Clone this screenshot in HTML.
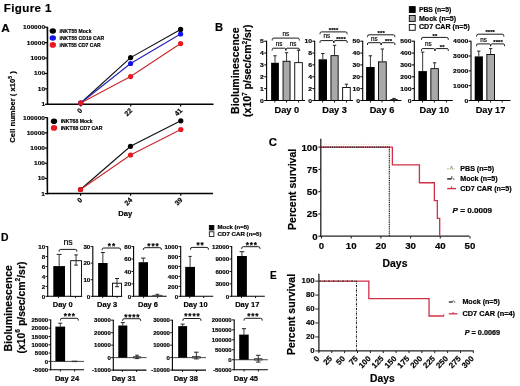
<!DOCTYPE html>
<html><head><meta charset="utf-8"><title>Figure 1</title>
<style>
html,body{margin:0;padding:0;background:#fff;}
body{width:520px;height:386px;overflow:hidden;}
svg{display:block;will-change:transform;font-family:"Liberation Sans",sans-serif;font-weight:bold;}
text{stroke:#000;stroke-width:0.18px;}
</style></head>
<body>
<svg width="520" height="386" viewBox="0 0 520 386">
<rect width="520" height="386" fill="#fff"/>
<text x="3.8" y="12.1" font-size="11.6" letter-spacing="0.35">Figure 1</text>
<text x="1.3" y="31.6" font-size="11.8">A</text>
<line x1="47.5" y1="26.9" x2="47.5" y2="105" stroke="#000" stroke-width="1.5"/>
<line x1="46.8" y1="104.3" x2="213.5" y2="104.3" stroke="#000" stroke-width="1.5"/>
<line x1="44.9" y1="27.2" x2="47.5" y2="27.2" stroke="#000" stroke-width="1.2"/>
<text x="0" y="0" transform="translate(45.1 29.2) scale(1 0.9)" font-size="6.6" text-anchor="end">100000</text>
<line x1="46.2" y1="37.98" x2="47.5" y2="37.98" stroke="#444" stroke-width="0.5"/>
<line x1="46.2" y1="35.26" x2="47.5" y2="35.26" stroke="#444" stroke-width="0.5"/>
<line x1="46.2" y1="33.34" x2="47.5" y2="33.34" stroke="#444" stroke-width="0.5"/>
<line x1="46.2" y1="31.84" x2="47.5" y2="31.84" stroke="#444" stroke-width="0.5"/>
<line x1="46.2" y1="30.62" x2="47.5" y2="30.62" stroke="#444" stroke-width="0.5"/>
<line x1="46.2" y1="29.59" x2="47.5" y2="29.59" stroke="#444" stroke-width="0.5"/>
<line x1="46.2" y1="28.69" x2="47.5" y2="28.69" stroke="#444" stroke-width="0.5"/>
<line x1="46.2" y1="27.91" x2="47.5" y2="27.91" stroke="#444" stroke-width="0.5"/>
<line x1="44.9" y1="42.62" x2="47.5" y2="42.62" stroke="#000" stroke-width="1.2"/>
<text x="0" y="0" transform="translate(45.1 44.62) scale(1 0.9)" font-size="6.6" text-anchor="end">10000</text>
<line x1="46.2" y1="53.4" x2="47.5" y2="53.4" stroke="#444" stroke-width="0.5"/>
<line x1="46.2" y1="50.68" x2="47.5" y2="50.68" stroke="#444" stroke-width="0.5"/>
<line x1="46.2" y1="48.76" x2="47.5" y2="48.76" stroke="#444" stroke-width="0.5"/>
<line x1="46.2" y1="47.26" x2="47.5" y2="47.26" stroke="#444" stroke-width="0.5"/>
<line x1="46.2" y1="46.04" x2="47.5" y2="46.04" stroke="#444" stroke-width="0.5"/>
<line x1="46.2" y1="45.01" x2="47.5" y2="45.01" stroke="#444" stroke-width="0.5"/>
<line x1="46.2" y1="44.11" x2="47.5" y2="44.11" stroke="#444" stroke-width="0.5"/>
<line x1="46.2" y1="43.33" x2="47.5" y2="43.33" stroke="#444" stroke-width="0.5"/>
<line x1="44.9" y1="58.04" x2="47.5" y2="58.04" stroke="#000" stroke-width="1.2"/>
<text x="0" y="0" transform="translate(45.1 60.04) scale(1 0.9)" font-size="6.6" text-anchor="end">1000</text>
<line x1="46.2" y1="68.82" x2="47.5" y2="68.82" stroke="#444" stroke-width="0.5"/>
<line x1="46.2" y1="66.1" x2="47.5" y2="66.1" stroke="#444" stroke-width="0.5"/>
<line x1="46.2" y1="64.18" x2="47.5" y2="64.18" stroke="#444" stroke-width="0.5"/>
<line x1="46.2" y1="62.68" x2="47.5" y2="62.68" stroke="#444" stroke-width="0.5"/>
<line x1="46.2" y1="61.46" x2="47.5" y2="61.46" stroke="#444" stroke-width="0.5"/>
<line x1="46.2" y1="60.43" x2="47.5" y2="60.43" stroke="#444" stroke-width="0.5"/>
<line x1="46.2" y1="59.53" x2="47.5" y2="59.53" stroke="#444" stroke-width="0.5"/>
<line x1="46.2" y1="58.75" x2="47.5" y2="58.75" stroke="#444" stroke-width="0.5"/>
<line x1="44.9" y1="73.46" x2="47.5" y2="73.46" stroke="#000" stroke-width="1.2"/>
<text x="0" y="0" transform="translate(45.1 75.46) scale(1 0.9)" font-size="6.6" text-anchor="end">100</text>
<line x1="46.2" y1="84.24" x2="47.5" y2="84.24" stroke="#444" stroke-width="0.5"/>
<line x1="46.2" y1="81.52" x2="47.5" y2="81.52" stroke="#444" stroke-width="0.5"/>
<line x1="46.2" y1="79.6" x2="47.5" y2="79.6" stroke="#444" stroke-width="0.5"/>
<line x1="46.2" y1="78.1" x2="47.5" y2="78.1" stroke="#444" stroke-width="0.5"/>
<line x1="46.2" y1="76.88" x2="47.5" y2="76.88" stroke="#444" stroke-width="0.5"/>
<line x1="46.2" y1="75.85" x2="47.5" y2="75.85" stroke="#444" stroke-width="0.5"/>
<line x1="46.2" y1="74.95" x2="47.5" y2="74.95" stroke="#444" stroke-width="0.5"/>
<line x1="46.2" y1="74.17" x2="47.5" y2="74.17" stroke="#444" stroke-width="0.5"/>
<line x1="44.9" y1="88.88" x2="47.5" y2="88.88" stroke="#000" stroke-width="1.2"/>
<text x="0" y="0" transform="translate(45.1 90.88) scale(1 0.9)" font-size="6.6" text-anchor="end">10</text>
<line x1="46.2" y1="99.66" x2="47.5" y2="99.66" stroke="#444" stroke-width="0.5"/>
<line x1="46.2" y1="96.94" x2="47.5" y2="96.94" stroke="#444" stroke-width="0.5"/>
<line x1="46.2" y1="95.02" x2="47.5" y2="95.02" stroke="#444" stroke-width="0.5"/>
<line x1="46.2" y1="93.52" x2="47.5" y2="93.52" stroke="#444" stroke-width="0.5"/>
<line x1="46.2" y1="92.3" x2="47.5" y2="92.3" stroke="#444" stroke-width="0.5"/>
<line x1="46.2" y1="91.27" x2="47.5" y2="91.27" stroke="#444" stroke-width="0.5"/>
<line x1="46.2" y1="90.37" x2="47.5" y2="90.37" stroke="#444" stroke-width="0.5"/>
<line x1="46.2" y1="89.59" x2="47.5" y2="89.59" stroke="#444" stroke-width="0.5"/>
<line x1="44.9" y1="104.3" x2="47.5" y2="104.3" stroke="#000" stroke-width="1.2"/>
<text x="0" y="0" transform="translate(45.1 106.3) scale(1 0.9)" font-size="6.6" text-anchor="end">1</text>
<line x1="80.7" y1="104.3" x2="80.7" y2="106.5" stroke="#000" stroke-width="1.2"/>
<text x="0" y="0" transform="translate(82.8 111.1) rotate(-45)" font-size="7.0" text-anchor="end">0</text>
<line x1="130.7" y1="104.3" x2="130.7" y2="106.5" stroke="#000" stroke-width="1.2"/>
<text x="0" y="0" transform="translate(132.8 111.1) rotate(-45)" font-size="7.0" text-anchor="end">22</text>
<line x1="180.6" y1="104.3" x2="180.6" y2="106.5" stroke="#000" stroke-width="1.2"/>
<text x="0" y="0" transform="translate(182.7 111.1) rotate(-45)" font-size="7.0" text-anchor="end">41</text>
<polyline points="80.7,103 130.6,57.6 180.6,29.4" fill="none" stroke="#111" stroke-width="1.15"/>
<polyline points="80.7,103 130.6,63.5 180.6,34" fill="none" stroke="#2424b8" stroke-width="1.15"/>
<polyline points="80.7,103 130.6,76.6 180.6,43.6" fill="none" stroke="#c82a2c" stroke-width="1.15"/>
<circle cx="80.7" cy="103" r="2.6" fill="#000"/>
<circle cx="130.6" cy="57.6" r="2.6" fill="#000"/>
<circle cx="180.6" cy="29.4" r="2.6" fill="#000"/>
<circle cx="80.7" cy="103" r="2.6" fill="#1414e6"/>
<circle cx="130.6" cy="63.5" r="2.6" fill="#1414e6"/>
<circle cx="180.6" cy="34" r="2.6" fill="#1414e6"/>
<circle cx="80.7" cy="103" r="2.6" fill="#e8191e"/>
<circle cx="130.6" cy="76.6" r="2.6" fill="#e8191e"/>
<circle cx="180.6" cy="43.6" r="2.6" fill="#e8191e"/>
<ellipse cx="52.8" cy="31" rx="3.2" ry="2.8" fill="#000"/>
<text x="59.5" y="32.9" font-size="5.0" textLength="32" lengthAdjust="spacingAndGlyphs">iNKT55 Mock</text>
<ellipse cx="52.8" cy="38" rx="3.2" ry="2.8" fill="#1414e6"/>
<text x="59.5" y="39.9" font-size="5.0" textLength="44.6" lengthAdjust="spacingAndGlyphs">iNKT55 CD19 CAR</text>
<ellipse cx="52.8" cy="44.9" rx="3.2" ry="2.8" fill="#e8191e"/>
<text x="59.5" y="46.8" font-size="5.0" textLength="41.2" lengthAdjust="spacingAndGlyphs">iNKT55 CD7 CAR</text>
<line x1="47.4" y1="117.3" x2="47.4" y2="194.3" stroke="#000" stroke-width="1.5"/>
<line x1="46.7" y1="193.6" x2="213" y2="193.6" stroke="#000" stroke-width="1.5"/>
<line x1="44.8" y1="117.6" x2="47.4" y2="117.6" stroke="#000" stroke-width="1.2"/>
<text x="0" y="0" transform="translate(45 119.6) scale(1 0.9)" font-size="6.6" text-anchor="end">100000</text>
<line x1="46.1" y1="128.22" x2="47.4" y2="128.22" stroke="#444" stroke-width="0.5"/>
<line x1="46.1" y1="125.55" x2="47.4" y2="125.55" stroke="#444" stroke-width="0.5"/>
<line x1="46.1" y1="123.65" x2="47.4" y2="123.65" stroke="#444" stroke-width="0.5"/>
<line x1="46.1" y1="122.18" x2="47.4" y2="122.18" stroke="#444" stroke-width="0.5"/>
<line x1="46.1" y1="120.97" x2="47.4" y2="120.97" stroke="#444" stroke-width="0.5"/>
<line x1="46.1" y1="119.95" x2="47.4" y2="119.95" stroke="#444" stroke-width="0.5"/>
<line x1="46.1" y1="119.07" x2="47.4" y2="119.07" stroke="#444" stroke-width="0.5"/>
<line x1="46.1" y1="118.3" x2="47.4" y2="118.3" stroke="#444" stroke-width="0.5"/>
<line x1="44.8" y1="132.8" x2="47.4" y2="132.8" stroke="#000" stroke-width="1.2"/>
<text x="0" y="0" transform="translate(45 134.8) scale(1 0.9)" font-size="6.6" text-anchor="end">10000</text>
<line x1="46.1" y1="143.42" x2="47.4" y2="143.42" stroke="#444" stroke-width="0.5"/>
<line x1="46.1" y1="140.75" x2="47.4" y2="140.75" stroke="#444" stroke-width="0.5"/>
<line x1="46.1" y1="138.85" x2="47.4" y2="138.85" stroke="#444" stroke-width="0.5"/>
<line x1="46.1" y1="137.38" x2="47.4" y2="137.38" stroke="#444" stroke-width="0.5"/>
<line x1="46.1" y1="136.17" x2="47.4" y2="136.17" stroke="#444" stroke-width="0.5"/>
<line x1="46.1" y1="135.15" x2="47.4" y2="135.15" stroke="#444" stroke-width="0.5"/>
<line x1="46.1" y1="134.27" x2="47.4" y2="134.27" stroke="#444" stroke-width="0.5"/>
<line x1="46.1" y1="133.5" x2="47.4" y2="133.5" stroke="#444" stroke-width="0.5"/>
<line x1="44.8" y1="148" x2="47.4" y2="148" stroke="#000" stroke-width="1.2"/>
<text x="0" y="0" transform="translate(45 150) scale(1 0.9)" font-size="6.6" text-anchor="end">1000</text>
<line x1="46.1" y1="158.62" x2="47.4" y2="158.62" stroke="#444" stroke-width="0.5"/>
<line x1="46.1" y1="155.95" x2="47.4" y2="155.95" stroke="#444" stroke-width="0.5"/>
<line x1="46.1" y1="154.05" x2="47.4" y2="154.05" stroke="#444" stroke-width="0.5"/>
<line x1="46.1" y1="152.58" x2="47.4" y2="152.58" stroke="#444" stroke-width="0.5"/>
<line x1="46.1" y1="151.37" x2="47.4" y2="151.37" stroke="#444" stroke-width="0.5"/>
<line x1="46.1" y1="150.35" x2="47.4" y2="150.35" stroke="#444" stroke-width="0.5"/>
<line x1="46.1" y1="149.47" x2="47.4" y2="149.47" stroke="#444" stroke-width="0.5"/>
<line x1="46.1" y1="148.7" x2="47.4" y2="148.7" stroke="#444" stroke-width="0.5"/>
<line x1="44.8" y1="163.2" x2="47.4" y2="163.2" stroke="#000" stroke-width="1.2"/>
<text x="0" y="0" transform="translate(45 165.2) scale(1 0.9)" font-size="6.6" text-anchor="end">100</text>
<line x1="46.1" y1="173.82" x2="47.4" y2="173.82" stroke="#444" stroke-width="0.5"/>
<line x1="46.1" y1="171.15" x2="47.4" y2="171.15" stroke="#444" stroke-width="0.5"/>
<line x1="46.1" y1="169.25" x2="47.4" y2="169.25" stroke="#444" stroke-width="0.5"/>
<line x1="46.1" y1="167.78" x2="47.4" y2="167.78" stroke="#444" stroke-width="0.5"/>
<line x1="46.1" y1="166.57" x2="47.4" y2="166.57" stroke="#444" stroke-width="0.5"/>
<line x1="46.1" y1="165.55" x2="47.4" y2="165.55" stroke="#444" stroke-width="0.5"/>
<line x1="46.1" y1="164.67" x2="47.4" y2="164.67" stroke="#444" stroke-width="0.5"/>
<line x1="46.1" y1="163.9" x2="47.4" y2="163.9" stroke="#444" stroke-width="0.5"/>
<line x1="44.8" y1="178.4" x2="47.4" y2="178.4" stroke="#000" stroke-width="1.2"/>
<text x="0" y="0" transform="translate(45 180.4) scale(1 0.9)" font-size="6.6" text-anchor="end">10</text>
<line x1="46.1" y1="189.02" x2="47.4" y2="189.02" stroke="#444" stroke-width="0.5"/>
<line x1="46.1" y1="186.35" x2="47.4" y2="186.35" stroke="#444" stroke-width="0.5"/>
<line x1="46.1" y1="184.45" x2="47.4" y2="184.45" stroke="#444" stroke-width="0.5"/>
<line x1="46.1" y1="182.98" x2="47.4" y2="182.98" stroke="#444" stroke-width="0.5"/>
<line x1="46.1" y1="181.77" x2="47.4" y2="181.77" stroke="#444" stroke-width="0.5"/>
<line x1="46.1" y1="180.75" x2="47.4" y2="180.75" stroke="#444" stroke-width="0.5"/>
<line x1="46.1" y1="179.87" x2="47.4" y2="179.87" stroke="#444" stroke-width="0.5"/>
<line x1="46.1" y1="179.1" x2="47.4" y2="179.1" stroke="#444" stroke-width="0.5"/>
<line x1="44.8" y1="193.6" x2="47.4" y2="193.6" stroke="#000" stroke-width="1.2"/>
<text x="0" y="0" transform="translate(45 195.6) scale(1 0.9)" font-size="6.6" text-anchor="end">1</text>
<line x1="80.6" y1="193.6" x2="80.6" y2="195.8" stroke="#000" stroke-width="1.2"/>
<text x="0" y="0" transform="translate(82.7 200.4) rotate(-45)" font-size="7.0" text-anchor="end">0</text>
<line x1="130.6" y1="193.6" x2="130.6" y2="195.8" stroke="#000" stroke-width="1.2"/>
<text x="0" y="0" transform="translate(132.7 200.4) rotate(-45)" font-size="7.0" text-anchor="end">24</text>
<line x1="180.8" y1="193.6" x2="180.8" y2="195.8" stroke="#000" stroke-width="1.2"/>
<text x="0" y="0" transform="translate(182.9 200.4) rotate(-45)" font-size="7.0" text-anchor="end">39</text>
<polyline points="80.5,189.5 130.5,146.3 180.8,120.8" fill="none" stroke="#111" stroke-width="1.15"/>
<polyline points="80.5,189.5 130.5,155 180.8,129.5" fill="none" stroke="#c82a2c" stroke-width="1.15"/>
<circle cx="80.5" cy="189.5" r="2.6" fill="#000"/>
<circle cx="130.5" cy="146.3" r="2.6" fill="#000"/>
<circle cx="180.8" cy="120.8" r="2.6" fill="#000"/>
<circle cx="80.5" cy="189.5" r="2.6" fill="#e8191e"/>
<circle cx="130.5" cy="155" r="2.6" fill="#e8191e"/>
<circle cx="180.8" cy="129.5" r="2.6" fill="#e8191e"/>
<ellipse cx="54" cy="121.3" rx="3.2" ry="2.8" fill="#000"/>
<text x="60.7" y="123.2" font-size="5.0" textLength="32" lengthAdjust="spacingAndGlyphs">iNKT68 Mock</text>
<ellipse cx="54" cy="127.9" rx="3.2" ry="2.8" fill="#e8191e"/>
<text x="60.7" y="129.8" font-size="5.0" textLength="41.8" lengthAdjust="spacingAndGlyphs">iNKT68 CD7 CAR</text>
<text x="0" y="0" transform="translate(15.2 107) rotate(-90)" font-size="7.7" text-anchor="middle">Cell number ( x10<tspan font-size="5" dy="-3.4">5</tspan><tspan dy="3.4"> )</tspan></text>
<text x="125.2" y="216" font-size="7.6" text-anchor="middle">Day</text>
<text x="215.1" y="31.4" font-size="11.2">B</text>
<text x="0" y="0" transform="translate(238.7 70.7) rotate(-90)" font-size="10.5" text-anchor="middle">Bioluminescence</text>
<text x="0" y="0" transform="translate(251.4 70.75) rotate(-90)" font-size="10.5" text-anchor="middle" textLength="92.4" lengthAdjust="spacingAndGlyphs">(x10<tspan font-size="6.6" dy="-4.6">7</tspan><tspan dy="4.6"> p/sec/cm</tspan><tspan font-size="6.6" dy="-4.6">2</tspan><tspan dy="4.6">/sr)</tspan></text>
<line x1="266.6" y1="40.7" x2="266.6" y2="101" stroke="#000" stroke-width="1.1"/>
<line x1="266.1" y1="100.5" x2="305" y2="100.5" stroke="#000" stroke-width="1.1"/>
<line x1="264.2" y1="100.5" x2="266.6" y2="100.5" stroke="#000" stroke-width="1.0"/>
<text x="0" y="0" transform="translate(263.9 102.6) scale(1 0.83)" font-size="6.85" text-anchor="end">0</text>
<line x1="264.2" y1="88.64" x2="266.6" y2="88.64" stroke="#000" stroke-width="1.0"/>
<text x="0" y="0" transform="translate(263.9 90.74) scale(1 0.83)" font-size="6.85" text-anchor="end">1</text>
<line x1="264.2" y1="76.78" x2="266.6" y2="76.78" stroke="#000" stroke-width="1.0"/>
<text x="0" y="0" transform="translate(263.9 78.88) scale(1 0.83)" font-size="6.85" text-anchor="end">2</text>
<line x1="264.2" y1="64.92" x2="266.6" y2="64.92" stroke="#000" stroke-width="1.0"/>
<text x="0" y="0" transform="translate(263.9 67.02) scale(1 0.83)" font-size="6.85" text-anchor="end">3</text>
<line x1="264.2" y1="53.06" x2="266.6" y2="53.06" stroke="#000" stroke-width="1.0"/>
<text x="0" y="0" transform="translate(263.9 55.16) scale(1 0.83)" font-size="6.85" text-anchor="end">4</text>
<line x1="264.2" y1="41.2" x2="266.6" y2="41.2" stroke="#000" stroke-width="1.0"/>
<text x="0" y="0" transform="translate(263.9 43.3) scale(1 0.83)" font-size="6.85" text-anchor="end">5</text>
<line x1="274.8" y1="100.5" x2="274.8" y2="102.5" stroke="#000" stroke-width="0.9"/>
<line x1="286.5" y1="100.5" x2="286.5" y2="102.5" stroke="#000" stroke-width="0.9"/>
<line x1="298.6" y1="100.5" x2="298.6" y2="102.5" stroke="#000" stroke-width="0.9"/>
<line x1="275" y1="62.8" x2="275" y2="55.8" stroke="#222" stroke-width="0.9"/>
<line x1="273.3" y1="55.8" x2="276.7" y2="55.8" stroke="#222" stroke-width="1.0"/>
<rect x="271.1" y="62.8" width="7.8" height="37.7" fill="#000"/>
<line x1="286.55" y1="60.8" x2="286.55" y2="52.7" stroke="#222" stroke-width="0.9"/>
<line x1="284.85" y1="52.7" x2="288.25" y2="52.7" stroke="#222" stroke-width="1.0"/>
<rect x="283.05" y="61.25" width="7" height="39.25" fill="#a9a9a9" stroke="#000" stroke-width="0.9"/>
<line x1="298.55" y1="62.2" x2="298.55" y2="50.2" stroke="#222" stroke-width="0.9"/>
<line x1="296.85" y1="50.2" x2="300.25" y2="50.2" stroke="#222" stroke-width="1.0"/>
<rect x="294.75" y="62.65" width="7.6" height="37.85" fill="#fff" stroke="#000" stroke-width="0.9"/>
<text x="286.8" y="112.6" font-size="9.2" text-anchor="middle">Day 0</text>
<path d="M272.2,40.5 L272.2,39.7 Q272.2,38.1 273.8,38.1 L297.7,38.1 Q299.3,38.1 299.3,39.7 L299.3,40.5" fill="none" stroke="#000" stroke-width="0.9"/>
<path d="M272.2,50.5 L272.2,49.4 Q272.2,48.2 273.4,48.2 L284.7,48.2 Q285.9,48.2 285.9,50.5 M285.9,50.5 Q285.9,48.2 287.1,48.2 L298.1,48.2 Q299.3,48.2 299.3,49.4 L299.3,50.5" fill="none" stroke="#000" stroke-width="0.9"/>
<text x="285.75" y="35.9" font-size="6.3" font-weight="normal" text-anchor="middle">ns</text>
<text x="279.05" y="46" font-size="6.3" font-weight="normal" text-anchor="middle">ns</text>
<text x="293.1" y="46" font-size="6.3" font-weight="normal" text-anchor="middle">ns</text>
<line x1="314.7" y1="40.7" x2="314.7" y2="101" stroke="#000" stroke-width="1.1"/>
<line x1="314.2" y1="100.5" x2="353" y2="100.5" stroke="#000" stroke-width="1.1"/>
<line x1="312.3" y1="100.5" x2="314.7" y2="100.5" stroke="#000" stroke-width="1.0"/>
<text x="0" y="0" transform="translate(312 102.6) scale(1 0.83)" font-size="6.85" text-anchor="end">0</text>
<line x1="312.3" y1="88.64" x2="314.7" y2="88.64" stroke="#000" stroke-width="1.0"/>
<text x="0" y="0" transform="translate(312 90.74) scale(1 0.83)" font-size="6.85" text-anchor="end">2</text>
<line x1="312.3" y1="76.78" x2="314.7" y2="76.78" stroke="#000" stroke-width="1.0"/>
<text x="0" y="0" transform="translate(312 78.88) scale(1 0.83)" font-size="6.85" text-anchor="end">4</text>
<line x1="312.3" y1="64.92" x2="314.7" y2="64.92" stroke="#000" stroke-width="1.0"/>
<text x="0" y="0" transform="translate(312 67.02) scale(1 0.83)" font-size="6.85" text-anchor="end">6</text>
<line x1="312.3" y1="53.06" x2="314.7" y2="53.06" stroke="#000" stroke-width="1.0"/>
<text x="0" y="0" transform="translate(312 55.16) scale(1 0.83)" font-size="6.85" text-anchor="end">8</text>
<line x1="312.3" y1="41.2" x2="314.7" y2="41.2" stroke="#000" stroke-width="1.0"/>
<text x="0" y="0" transform="translate(312 43.3) scale(1 0.83)" font-size="6.85" text-anchor="end">10</text>
<line x1="322.7" y1="100.5" x2="322.7" y2="102.5" stroke="#000" stroke-width="0.9"/>
<line x1="334.5" y1="100.5" x2="334.5" y2="102.5" stroke="#000" stroke-width="0.9"/>
<line x1="346.5" y1="100.5" x2="346.5" y2="102.5" stroke="#000" stroke-width="0.9"/>
<line x1="322.8" y1="59.3" x2="322.8" y2="53.5" stroke="#222" stroke-width="0.9"/>
<line x1="321.1" y1="53.5" x2="324.5" y2="53.5" stroke="#222" stroke-width="1.0"/>
<rect x="318.6" y="59.3" width="8.4" height="41.2" fill="#000"/>
<line x1="334.55" y1="55.2" x2="334.55" y2="45.3" stroke="#222" stroke-width="0.9"/>
<line x1="332.85" y1="45.3" x2="336.25" y2="45.3" stroke="#222" stroke-width="1.0"/>
<rect x="330.95" y="55.65" width="7.2" height="44.85" fill="#a9a9a9" stroke="#000" stroke-width="0.9"/>
<line x1="346.45" y1="87" x2="346.45" y2="84.2" stroke="#222" stroke-width="0.9"/>
<line x1="344.75" y1="84.2" x2="348.15" y2="84.2" stroke="#222" stroke-width="1.0"/>
<rect x="342.65" y="87.45" width="7.6" height="13.05" fill="#fff" stroke="#000" stroke-width="0.9"/>
<text x="334.6" y="112.6" font-size="9.2" text-anchor="middle">Day 3</text>
<path d="M320,34.3 L320,33.5 Q320,31.9 321.6,31.9 L345.6,31.9 Q347.2,31.9 347.2,33.5 L347.2,34.3" fill="none" stroke="#000" stroke-width="0.9"/>
<path d="M320,42.9 L320,41.8 Q320,40.6 321.2,40.6 L332.6,40.6 Q333.8,40.6 333.8,42.9 M333.8,42.9 Q333.8,40.6 335,40.6 L346,40.6 Q347.2,40.6 347.2,41.8 L347.2,42.9" fill="none" stroke="#000" stroke-width="0.9"/>
<text x="333.6" y="32" font-size="5.8" text-anchor="middle" letter-spacing="0.15">****</text>
<text x="326.9" y="38.4" font-size="6.3" font-weight="normal" text-anchor="middle">ns</text>
<text x="341" y="40.7" font-size="5.8" text-anchor="middle" letter-spacing="0.15">****</text>
<line x1="362.7" y1="40.7" x2="362.7" y2="101" stroke="#000" stroke-width="1.1"/>
<line x1="362.2" y1="100.5" x2="401.4" y2="100.5" stroke="#000" stroke-width="1.1"/>
<line x1="360.3" y1="100.5" x2="362.7" y2="100.5" stroke="#000" stroke-width="1.0"/>
<text x="0" y="0" transform="translate(360 102.6) scale(1 0.83)" font-size="6.85" text-anchor="end">0</text>
<line x1="360.3" y1="88.64" x2="362.7" y2="88.64" stroke="#000" stroke-width="1.0"/>
<text x="0" y="0" transform="translate(360 90.74) scale(1 0.83)" font-size="6.85" text-anchor="end">10</text>
<line x1="360.3" y1="76.78" x2="362.7" y2="76.78" stroke="#000" stroke-width="1.0"/>
<text x="0" y="0" transform="translate(360 78.88) scale(1 0.83)" font-size="6.85" text-anchor="end">20</text>
<line x1="360.3" y1="64.92" x2="362.7" y2="64.92" stroke="#000" stroke-width="1.0"/>
<text x="0" y="0" transform="translate(360 67.02) scale(1 0.83)" font-size="6.85" text-anchor="end">30</text>
<line x1="360.3" y1="53.06" x2="362.7" y2="53.06" stroke="#000" stroke-width="1.0"/>
<text x="0" y="0" transform="translate(360 55.16) scale(1 0.83)" font-size="6.85" text-anchor="end">40</text>
<line x1="360.3" y1="41.2" x2="362.7" y2="41.2" stroke="#000" stroke-width="1.0"/>
<text x="0" y="0" transform="translate(360 43.3) scale(1 0.83)" font-size="6.85" text-anchor="end">50</text>
<line x1="370.4" y1="100.5" x2="370.4" y2="102.5" stroke="#000" stroke-width="0.9"/>
<line x1="382" y1="100.5" x2="382" y2="102.5" stroke="#000" stroke-width="0.9"/>
<line x1="394" y1="100.5" x2="394" y2="102.5" stroke="#000" stroke-width="0.9"/>
<line x1="370.4" y1="67" x2="370.4" y2="55.8" stroke="#222" stroke-width="0.9"/>
<line x1="368.7" y1="55.8" x2="372.1" y2="55.8" stroke="#222" stroke-width="1.0"/>
<rect x="366.1" y="67" width="8.6" height="33.5" fill="#000"/>
<line x1="382.35" y1="61.4" x2="382.35" y2="49" stroke="#222" stroke-width="0.9"/>
<line x1="380.65" y1="49" x2="384.05" y2="49" stroke="#222" stroke-width="1.0"/>
<rect x="378.45" y="61.85" width="7.8" height="38.65" fill="#a9a9a9" stroke="#000" stroke-width="0.9"/>
<line x1="394" y1="99.2" x2="394" y2="98.4" stroke="#222" stroke-width="0.9"/>
<line x1="392.3" y1="98.4" x2="395.7" y2="98.4" stroke="#222" stroke-width="1.0"/>
<rect x="390.65" y="99.65" width="6.7" height="0.85" fill="#fff" stroke="#000" stroke-width="0.9"/>
<text x="382" y="112.6" font-size="9.2" text-anchor="middle">Day 6</text>
<path d="M367.5,37.2 L367.5,36.4 Q367.5,34.8 369.1,34.8 L393.3,34.8 Q394.9,34.8 394.9,36.4 L394.9,37.2" fill="none" stroke="#000" stroke-width="0.9"/>
<path d="M367.5,45 L367.5,43.9 Q367.5,42.7 368.7,42.7 L380,42.7 Q381.2,42.7 381.2,45 M381.2,45 Q381.2,42.7 382.4,42.7 L393.7,42.7 Q394.9,42.7 394.9,43.9 L394.9,45" fill="none" stroke="#000" stroke-width="0.9"/>
<text x="381.2" y="34.9" font-size="5.8" text-anchor="middle" letter-spacing="0.15">***</text>
<text x="374.35" y="40.5" font-size="6.3" font-weight="normal" text-anchor="middle">ns</text>
<text x="388.55" y="42.8" font-size="5.8" text-anchor="middle" letter-spacing="0.15">***</text>
<line x1="414.3" y1="40.7" x2="414.3" y2="101" stroke="#000" stroke-width="1.1"/>
<line x1="413.8" y1="100.5" x2="452.8" y2="100.5" stroke="#000" stroke-width="1.1"/>
<line x1="411.9" y1="100.5" x2="414.3" y2="100.5" stroke="#000" stroke-width="1.0"/>
<text x="0" y="0" transform="translate(411.6 102.6) scale(1 0.83)" font-size="6.85" text-anchor="end">0</text>
<line x1="411.9" y1="88.64" x2="414.3" y2="88.64" stroke="#000" stroke-width="1.0"/>
<text x="0" y="0" transform="translate(411.6 90.74) scale(1 0.83)" font-size="6.85" text-anchor="end">100</text>
<line x1="411.9" y1="76.78" x2="414.3" y2="76.78" stroke="#000" stroke-width="1.0"/>
<text x="0" y="0" transform="translate(411.6 78.88) scale(1 0.83)" font-size="6.85" text-anchor="end">200</text>
<line x1="411.9" y1="64.92" x2="414.3" y2="64.92" stroke="#000" stroke-width="1.0"/>
<text x="0" y="0" transform="translate(411.6 67.02) scale(1 0.83)" font-size="6.85" text-anchor="end">300</text>
<line x1="411.9" y1="53.06" x2="414.3" y2="53.06" stroke="#000" stroke-width="1.0"/>
<text x="0" y="0" transform="translate(411.6 55.16) scale(1 0.83)" font-size="6.85" text-anchor="end">400</text>
<line x1="411.9" y1="41.2" x2="414.3" y2="41.2" stroke="#000" stroke-width="1.0"/>
<text x="0" y="0" transform="translate(411.6 43.3) scale(1 0.83)" font-size="6.85" text-anchor="end">500</text>
<line x1="422.5" y1="100.5" x2="422.5" y2="102.5" stroke="#000" stroke-width="0.9"/>
<line x1="434.4" y1="100.5" x2="434.4" y2="102.5" stroke="#000" stroke-width="0.9"/>
<line x1="446.4" y1="100.5" x2="446.4" y2="102.5" stroke="#000" stroke-width="0.9"/>
<line x1="422.65" y1="71.1" x2="422.65" y2="52.1" stroke="#222" stroke-width="0.9"/>
<line x1="420.95" y1="52.1" x2="424.35" y2="52.1" stroke="#222" stroke-width="1.0"/>
<rect x="418.4" y="71.1" width="8.5" height="29.4" fill="#000"/>
<line x1="434.6" y1="68.2" x2="434.6" y2="62.8" stroke="#222" stroke-width="0.9"/>
<line x1="432.9" y1="62.8" x2="436.3" y2="62.8" stroke="#222" stroke-width="1.0"/>
<rect x="430.85" y="68.65" width="7.5" height="31.85" fill="#a9a9a9" stroke="#000" stroke-width="0.9"/>
<text x="434.4" y="112.6" font-size="9.2" text-anchor="middle">Day 10</text>
<path d="M421.5,39.8 L421.5,39 Q421.5,37.4 423.1,37.4 L446.7,37.4 Q448.3,37.4 448.3,39 L448.3,39.8" fill="none" stroke="#000" stroke-width="0.9"/>
<path d="M421.5,50.9 L421.5,49.8 Q421.5,48.6 422.7,48.6 L433.8,48.6 Q435,48.6 435,50.9 M435,50.9 Q435,48.6 436.2,48.6 L447.1,48.6 Q448.3,48.6 448.3,49.8 L448.3,50.9" fill="none" stroke="#000" stroke-width="0.9"/>
<text x="434.9" y="37.5" font-size="5.8" text-anchor="middle" letter-spacing="0.15">**</text>
<text x="428.25" y="46.4" font-size="6.3" font-weight="normal" text-anchor="middle">ns</text>
<text x="442.15" y="48.7" font-size="5.8" text-anchor="middle" letter-spacing="0.15">**</text>
<line x1="471" y1="40.7" x2="471" y2="101" stroke="#000" stroke-width="1.1"/>
<line x1="470.5" y1="100.5" x2="510.5" y2="100.5" stroke="#000" stroke-width="1.1"/>
<line x1="468.6" y1="100.5" x2="471" y2="100.5" stroke="#000" stroke-width="1.0"/>
<text x="0" y="0" transform="translate(468.3 102.6) scale(1 0.83)" font-size="6.85" text-anchor="end">0</text>
<line x1="468.6" y1="85.67" x2="471" y2="85.67" stroke="#000" stroke-width="1.0"/>
<text x="0" y="0" transform="translate(468.3 87.77) scale(1 0.83)" font-size="6.85" text-anchor="end">1000</text>
<line x1="468.6" y1="70.85" x2="471" y2="70.85" stroke="#000" stroke-width="1.0"/>
<text x="0" y="0" transform="translate(468.3 72.95) scale(1 0.83)" font-size="6.85" text-anchor="end">2000</text>
<line x1="468.6" y1="56.02" x2="471" y2="56.02" stroke="#000" stroke-width="1.0"/>
<text x="0" y="0" transform="translate(468.3 58.12) scale(1 0.83)" font-size="6.85" text-anchor="end">3000</text>
<line x1="468.6" y1="41.2" x2="471" y2="41.2" stroke="#000" stroke-width="1.0"/>
<text x="0" y="0" transform="translate(468.3 43.3) scale(1 0.83)" font-size="6.85" text-anchor="end">4000</text>
<line x1="478.6" y1="100.5" x2="478.6" y2="102.5" stroke="#000" stroke-width="0.9"/>
<line x1="490.6" y1="100.5" x2="490.6" y2="102.5" stroke="#000" stroke-width="0.9"/>
<line x1="502.2" y1="100.5" x2="502.2" y2="102.5" stroke="#000" stroke-width="0.9"/>
<line x1="478.8" y1="56.4" x2="478.8" y2="51.1" stroke="#222" stroke-width="0.9"/>
<line x1="477.1" y1="51.1" x2="480.5" y2="51.1" stroke="#222" stroke-width="1.0"/>
<rect x="474.7" y="56.4" width="8.2" height="44.1" fill="#000"/>
<line x1="490.65" y1="54" x2="490.65" y2="48.6" stroke="#222" stroke-width="0.9"/>
<line x1="488.95" y1="48.6" x2="492.35" y2="48.6" stroke="#222" stroke-width="1.0"/>
<rect x="486.85" y="54.45" width="7.6" height="46.05" fill="#a9a9a9" stroke="#000" stroke-width="0.9"/>
<text x="490.5" y="112.6" font-size="9.2" text-anchor="middle">Day 17</text>
<path d="M476.6,36.6 L476.6,35.8 Q476.6,34.2 478.2,34.2 L502.2,34.2 Q503.8,34.2 503.8,35.8 L503.8,36.6" fill="none" stroke="#000" stroke-width="0.9"/>
<path d="M476.6,46.2 L476.6,45.1 Q476.6,43.9 477.8,43.9 L489.4,43.9 Q490.6,43.9 490.6,46.2 M490.6,46.2 Q490.6,43.9 491.8,43.9 L503.3,43.9 Q504.5,43.9 504.5,45.1 L504.5,46.2" fill="none" stroke="#000" stroke-width="0.9"/>
<text x="490.2" y="34.3" font-size="5.8" text-anchor="middle" letter-spacing="0.15">****</text>
<text x="483.6" y="41.7" font-size="6.3" font-weight="normal" text-anchor="middle">ns</text>
<text x="498.05" y="44" font-size="5.8" text-anchor="middle" letter-spacing="0.15">****</text>
<rect x="409.3" y="6.6" width="5.9" height="5.9" fill="#000" stroke="#000" stroke-width="0.9"/>
<text x="418.9" y="11.7" font-size="6.5" textLength="32.3" lengthAdjust="spacingAndGlyphs">PBS (n=5)</text>
<rect x="409.3" y="15.5" width="5.9" height="5.9" fill="#a9a9a9" stroke="#000" stroke-width="0.9"/>
<text x="418.9" y="20.5" font-size="6.5" textLength="37.3" lengthAdjust="spacingAndGlyphs">Mock (n=5)</text>
<rect x="409.3" y="24.4" width="5.9" height="5.9" fill="#fff" stroke="#000" stroke-width="0.9"/>
<text x="418.9" y="29.2" font-size="6.5" textLength="50.9" lengthAdjust="spacingAndGlyphs">CD7 CAR (n=5)</text>
<text x="268.8" y="146.2" font-size="11.4">C</text>
<text x="0" y="0" transform="translate(295.8 189.4) rotate(-90)" font-size="10.5" text-anchor="middle">Percent survival</text>
<line x1="320.8" y1="138.8" x2="320.8" y2="236.8" stroke="#222" stroke-width="1.3"/>
<line x1="320.2" y1="236.2" x2="469.5" y2="236.2" stroke="#222" stroke-width="1.3"/>
<line x1="318.4" y1="236.2" x2="320.8" y2="236.2" stroke="#222" stroke-width="1.1"/>
<text x="317.6" y="239.6" font-size="9.7" text-anchor="end">0</text>
<line x1="318.4" y1="213.93" x2="320.8" y2="213.93" stroke="#222" stroke-width="1.1"/>
<text x="317.6" y="217.33" font-size="9.7" text-anchor="end">25</text>
<line x1="318.4" y1="191.66" x2="320.8" y2="191.66" stroke="#222" stroke-width="1.1"/>
<text x="317.6" y="195.06" font-size="9.7" text-anchor="end">50</text>
<line x1="318.4" y1="169.39" x2="320.8" y2="169.39" stroke="#222" stroke-width="1.1"/>
<text x="317.6" y="172.79" font-size="9.7" text-anchor="end">75</text>
<line x1="318.4" y1="147.12" x2="320.8" y2="147.12" stroke="#222" stroke-width="1.1"/>
<text x="317.6" y="150.52" font-size="9.7" text-anchor="end">100</text>
<line x1="321.5" y1="236.2" x2="321.5" y2="238.5" stroke="#222" stroke-width="1.1"/>
<text x="321.5" y="249.4" font-size="9.7" text-anchor="middle">0</text>
<line x1="351.2" y1="236.2" x2="351.2" y2="238.5" stroke="#222" stroke-width="1.1"/>
<text x="351.2" y="249.4" font-size="9.7" text-anchor="middle">10</text>
<line x1="380.9" y1="236.2" x2="380.9" y2="238.5" stroke="#222" stroke-width="1.1"/>
<text x="380.9" y="249.4" font-size="9.7" text-anchor="middle">20</text>
<line x1="410.6" y1="236.2" x2="410.6" y2="238.5" stroke="#222" stroke-width="1.1"/>
<text x="410.6" y="249.4" font-size="9.7" text-anchor="middle">30</text>
<line x1="440.3" y1="236.2" x2="440.3" y2="238.5" stroke="#222" stroke-width="1.1"/>
<text x="440.3" y="249.4" font-size="9.7" text-anchor="middle">40</text>
<line x1="470" y1="236.2" x2="470" y2="238.5" stroke="#222" stroke-width="1.1"/>
<text x="470" y="249.4" font-size="9.7" text-anchor="middle">50</text>
<text x="395" y="266.9" font-size="10.4" text-anchor="middle">Days</text>
<polyline points="320.8,144.32 389.81,144.32" fill="none" stroke="#c8b46e" stroke-width="0.8" stroke-dasharray="1,1.5" opacity="0.6"/>
<polyline points="320.8,147.12 392.38,147.12 392.38,164.94 419.41,164.94 419.41,182.75 434.36,182.75 434.36,200.57 437.33,200.57 437.33,218.38 439.7,218.38 439.7,236.2" fill="none" stroke="#cf3048" stroke-width="1.3"/>
<polyline points="320.8,147.12 389.31,147.12 389.31,236.2" fill="none" stroke="#1a1a1a" stroke-width="1.1" stroke-dasharray="1.4,0.8"/>
<line x1="447.2" y1="168.8" x2="448.8" y2="168.8" stroke="#8c8460" stroke-width="1.0" opacity="0.7"/>
<path d="M450.3,169.6 L451.5,166.0 L452.7,169.6" fill="none" stroke="#8c8460" stroke-width="0.8"/>
<line x1="453.6" y1="168.8" x2="454.6" y2="168.8" stroke="#8c8460" stroke-width="1.0" opacity="0.6"/>
<line x1="447.2" y1="178.9" x2="451.6" y2="178.9" stroke="#1a1a1a" stroke-width="1.4"/>
<line x1="451.8" y1="178.9" x2="451.8" y2="176.3" stroke="#1a1a1a" stroke-width="0.9"/>
<line x1="453.3" y1="179.2" x2="454.3" y2="179.2" stroke="#1a1a1a" stroke-width="1.2"/>
<line x1="447.2" y1="188.6" x2="456" y2="188.6" stroke="#cf3048" stroke-width="1.4"/>
<line x1="451.6" y1="188.6" x2="451.6" y2="186.3" stroke="#cf3048" stroke-width="0.9"/>
<text x="460.3" y="170.8" font-size="6.3" textLength="33.7" lengthAdjust="spacingAndGlyphs">PBS (n=5)</text>
<text x="460.3" y="180.9" font-size="6.3" textLength="37.4" lengthAdjust="spacingAndGlyphs">Mock (n=5)</text>
<text x="460.3" y="191" font-size="6.3" textLength="51.3" lengthAdjust="spacingAndGlyphs">CD7 CAR (n=5)</text>
<text x="452.6" y="213.1" font-size="6.7" textLength="39.4" lengthAdjust="spacingAndGlyphs"><tspan font-style="italic">P</tspan> = 0.0009</text>
<text x="1" y="240.5" font-size="10.4">D</text>
<text x="0" y="0" transform="translate(11.9 308.35) rotate(-90)" font-size="10.5" text-anchor="middle">Bioluminescence</text>
<text x="0" y="0" transform="translate(24.8 307.55) rotate(-90)" font-size="10.5" text-anchor="middle" textLength="92" lengthAdjust="spacingAndGlyphs">(x10<tspan font-size="6.6" dy="-4.6">6</tspan><tspan dy="4.6"> p/sec/cm</tspan><tspan font-size="6.6" dy="-4.6">2</tspan><tspan dy="4.6">/sr)</tspan></text>
<line x1="47.7" y1="246.1" x2="47.7" y2="296.8" stroke="#000" stroke-width="1.1"/>
<line x1="47.2" y1="296.3" x2="82.2" y2="296.3" stroke="#000" stroke-width="1.1"/>
<line x1="45.5" y1="296.3" x2="47.7" y2="296.3" stroke="#000" stroke-width="0.9"/>
<text x="45.2" y="298.5" font-size="6.2" text-anchor="end">0</text>
<line x1="45.5" y1="286.36" x2="47.7" y2="286.36" stroke="#000" stroke-width="0.9"/>
<text x="45.2" y="288.56" font-size="6.2" text-anchor="end">2</text>
<line x1="45.5" y1="276.42" x2="47.7" y2="276.42" stroke="#000" stroke-width="0.9"/>
<text x="45.2" y="278.62" font-size="6.2" text-anchor="end">4</text>
<line x1="45.5" y1="266.48" x2="47.7" y2="266.48" stroke="#000" stroke-width="0.9"/>
<text x="45.2" y="268.68" font-size="6.2" text-anchor="end">6</text>
<line x1="45.5" y1="256.54" x2="47.7" y2="256.54" stroke="#000" stroke-width="0.9"/>
<text x="45.2" y="258.74" font-size="6.2" text-anchor="end">8</text>
<line x1="45.5" y1="246.6" x2="47.7" y2="246.6" stroke="#000" stroke-width="0.9"/>
<text x="45.2" y="248.8" font-size="6.2" text-anchor="end">10</text>
<line x1="58.6" y1="296.3" x2="58.6" y2="298.1" stroke="#000" stroke-width="0.9"/>
<line x1="75.5" y1="296.3" x2="75.5" y2="298.1" stroke="#000" stroke-width="0.9"/>
<line x1="59.15" y1="266.1" x2="59.15" y2="254.4" stroke="#222" stroke-width="0.9"/>
<line x1="56.65" y1="254.4" x2="61.65" y2="254.4" stroke="#222" stroke-width="1.0"/>
<rect x="53.3" y="266.1" width="11.7" height="30.2" fill="#000"/>
<rect x="70.65" y="260.7" width="10.8" height="35.6" fill="#fff" stroke="#000" stroke-width="0.9"/>
<line x1="76.05" y1="260.7" x2="76.05" y2="254.9" stroke="#222" stroke-width="0.9"/>
<line x1="74.25" y1="254.9" x2="77.85" y2="254.9" stroke="#222" stroke-width="1.0"/>
<line x1="76.05" y1="260.7" x2="76.05" y2="265.1" stroke="#222" stroke-width="0.9"/>
<line x1="74.25" y1="265.1" x2="77.85" y2="265.1" stroke="#222" stroke-width="1.0"/>
<text x="62.8" y="307" font-size="7.5" text-anchor="middle">Day 0</text>
<path d="M59.1,251.7 L59.1,251 Q59.1,249.4 60.7,249.4 L75.3,249.4 Q76.9,249.4 76.9,251 L76.9,251.7" fill="none" stroke="#000" stroke-width="0.9"/>
<text x="68.1" y="245.2" font-size="8.8" font-weight="normal" text-anchor="middle">ns</text>
<line x1="92.8" y1="246.1" x2="92.8" y2="296.8" stroke="#000" stroke-width="1.1"/>
<line x1="92.3" y1="296.3" x2="122.2" y2="296.3" stroke="#000" stroke-width="1.1"/>
<line x1="90.6" y1="296.3" x2="92.8" y2="296.3" stroke="#000" stroke-width="0.9"/>
<text x="90.3" y="298.5" font-size="6.2" text-anchor="end">0</text>
<line x1="90.6" y1="279.73" x2="92.8" y2="279.73" stroke="#000" stroke-width="0.9"/>
<text x="90.3" y="281.93" font-size="6.2" text-anchor="end">10</text>
<line x1="90.6" y1="263.17" x2="92.8" y2="263.17" stroke="#000" stroke-width="0.9"/>
<text x="90.3" y="265.37" font-size="6.2" text-anchor="end">20</text>
<line x1="90.6" y1="246.6" x2="92.8" y2="246.6" stroke="#000" stroke-width="0.9"/>
<text x="90.3" y="248.8" font-size="6.2" text-anchor="end">30</text>
<line x1="102.7" y1="296.3" x2="102.7" y2="298.1" stroke="#000" stroke-width="0.9"/>
<line x1="117.1" y1="296.3" x2="117.1" y2="298.1" stroke="#000" stroke-width="0.9"/>
<line x1="102.85" y1="263" x2="102.85" y2="252.5" stroke="#222" stroke-width="0.9"/>
<line x1="100.85" y1="252.5" x2="104.85" y2="252.5" stroke="#222" stroke-width="1.0"/>
<rect x="98.1" y="263" width="9.5" height="33.3" fill="#000"/>
<rect x="112.45" y="283.2" width="9.1" height="13.1" fill="#fff" stroke="#000" stroke-width="0.9"/>
<line x1="117" y1="283.2" x2="117" y2="278.5" stroke="#222" stroke-width="0.9"/>
<line x1="115" y1="278.5" x2="119" y2="278.5" stroke="#222" stroke-width="1.0"/>
<line x1="117" y1="283.2" x2="117" y2="286.7" stroke="#222" stroke-width="0.9"/>
<line x1="115" y1="286.7" x2="119" y2="286.7" stroke="#222" stroke-width="1.0"/>
<text x="107.1" y="307" font-size="7.5" text-anchor="middle">Day 3</text>
<path d="M102.1,250.3 L102.1,249.6 Q102.1,248 103.7,248 L119,248 Q120.6,248 120.6,249.6 L120.6,250.3" fill="none" stroke="#000" stroke-width="0.9"/>
<text x="111.9" y="248.8" font-size="8.2" text-anchor="middle" letter-spacing="0.85">**</text>
<line x1="133.6" y1="246.1" x2="133.6" y2="296.8" stroke="#000" stroke-width="1.1"/>
<line x1="133.1" y1="296.3" x2="166.7" y2="296.3" stroke="#000" stroke-width="1.1"/>
<line x1="131.4" y1="296.3" x2="133.6" y2="296.3" stroke="#000" stroke-width="0.9"/>
<text x="131.1" y="298.5" font-size="6.2" text-anchor="end">0</text>
<line x1="131.4" y1="283.88" x2="133.6" y2="283.88" stroke="#000" stroke-width="0.9"/>
<text x="131.1" y="286.07" font-size="6.2" text-anchor="end">20</text>
<line x1="131.4" y1="271.45" x2="133.6" y2="271.45" stroke="#000" stroke-width="0.9"/>
<text x="131.1" y="273.65" font-size="6.2" text-anchor="end">40</text>
<line x1="131.4" y1="259.02" x2="133.6" y2="259.02" stroke="#000" stroke-width="0.9"/>
<text x="131.1" y="261.22" font-size="6.2" text-anchor="end">60</text>
<line x1="131.4" y1="246.6" x2="133.6" y2="246.6" stroke="#000" stroke-width="0.9"/>
<text x="131.1" y="248.8" font-size="6.2" text-anchor="end">80</text>
<line x1="143.6" y1="296.3" x2="143.6" y2="298.1" stroke="#000" stroke-width="0.9"/>
<line x1="157.6" y1="296.3" x2="157.6" y2="298.1" stroke="#000" stroke-width="0.9"/>
<line x1="143.3" y1="262.2" x2="143.3" y2="258.1" stroke="#222" stroke-width="0.9"/>
<line x1="141.1" y1="258.1" x2="145.5" y2="258.1" stroke="#222" stroke-width="1.0"/>
<rect x="138.6" y="262.2" width="9.4" height="34.1" fill="#000"/>
<rect x="152.85" y="295.3" width="9" height="1.3" fill="#999" stroke="#333" stroke-width="0.8"/>
<line x1="157.35" y1="295.6" x2="157.35" y2="294.3" stroke="#222" stroke-width="0.9"/>
<line x1="155.55" y1="294.3" x2="159.15" y2="294.3" stroke="#222" stroke-width="1.0"/>
<text x="148" y="307" font-size="7.5" text-anchor="middle">Day 6</text>
<path d="M143.4,250 L143.4,249.3 Q143.4,247.7 145,247.7 L159.8,247.7 Q161.4,247.7 161.4,249.3 L161.4,250" fill="none" stroke="#000" stroke-width="0.9"/>
<text x="153.4" y="248.5" font-size="8.2" text-anchor="middle" letter-spacing="0.85">***</text>
<line x1="180.7" y1="246.1" x2="180.7" y2="296.8" stroke="#000" stroke-width="1.1"/>
<line x1="180.2" y1="296.3" x2="213.2" y2="296.3" stroke="#000" stroke-width="1.1"/>
<line x1="178.5" y1="296.3" x2="180.7" y2="296.3" stroke="#000" stroke-width="0.9"/>
<text x="178.2" y="298.5" font-size="6.2" text-anchor="end">0</text>
<line x1="178.5" y1="286.36" x2="180.7" y2="286.36" stroke="#000" stroke-width="0.9"/>
<text x="178.2" y="288.56" font-size="6.2" text-anchor="end">200</text>
<line x1="178.5" y1="276.42" x2="180.7" y2="276.42" stroke="#000" stroke-width="0.9"/>
<text x="178.2" y="278.62" font-size="6.2" text-anchor="end">400</text>
<line x1="178.5" y1="266.48" x2="180.7" y2="266.48" stroke="#000" stroke-width="0.9"/>
<text x="178.2" y="268.68" font-size="6.2" text-anchor="end">600</text>
<line x1="178.5" y1="256.54" x2="180.7" y2="256.54" stroke="#000" stroke-width="0.9"/>
<text x="178.2" y="258.74" font-size="6.2" text-anchor="end">800</text>
<line x1="178.5" y1="246.6" x2="180.7" y2="246.6" stroke="#000" stroke-width="0.9"/>
<text x="178.2" y="248.8" font-size="6.2" text-anchor="end">1000</text>
<line x1="189.7" y1="296.3" x2="189.7" y2="298.1" stroke="#000" stroke-width="0.9"/>
<line x1="203.7" y1="296.3" x2="203.7" y2="298.1" stroke="#000" stroke-width="0.9"/>
<line x1="190.1" y1="266.9" x2="190.1" y2="256.4" stroke="#222" stroke-width="0.9"/>
<line x1="188.5" y1="256.4" x2="191.7" y2="256.4" stroke="#222" stroke-width="1.0"/>
<rect x="185.2" y="266.9" width="9.8" height="29.4" fill="#000"/>
<text x="195.5" y="307" font-size="7.5" text-anchor="middle">Day 10</text>
<path d="M190.5,249.7 L190.5,249 Q190.5,247.4 192.1,247.4 L206.8,247.4 Q208.4,247.4 208.4,249 L208.4,249.7" fill="none" stroke="#000" stroke-width="0.9"/>
<text x="200.6" y="248.2" font-size="8.2" text-anchor="middle" letter-spacing="0.85">**</text>
<line x1="231.7" y1="246.1" x2="231.7" y2="296.8" stroke="#000" stroke-width="1.1"/>
<line x1="231.2" y1="296.3" x2="264.8" y2="296.3" stroke="#000" stroke-width="1.1"/>
<line x1="229.5" y1="296.3" x2="231.7" y2="296.3" stroke="#000" stroke-width="0.9"/>
<text x="229.2" y="298.5" font-size="6.2" text-anchor="end">0</text>
<line x1="229.5" y1="283.88" x2="231.7" y2="283.88" stroke="#000" stroke-width="0.9"/>
<text x="229.2" y="286.07" font-size="6.2" text-anchor="end">3000</text>
<line x1="229.5" y1="271.45" x2="231.7" y2="271.45" stroke="#000" stroke-width="0.9"/>
<text x="229.2" y="273.65" font-size="6.2" text-anchor="end">6000</text>
<line x1="229.5" y1="259.02" x2="231.7" y2="259.02" stroke="#000" stroke-width="0.9"/>
<text x="229.2" y="261.22" font-size="6.2" text-anchor="end">9000</text>
<line x1="229.5" y1="246.6" x2="231.7" y2="246.6" stroke="#000" stroke-width="0.9"/>
<text x="229.2" y="248.8" font-size="6.2" text-anchor="end">12000</text>
<line x1="241.5" y1="296.3" x2="241.5" y2="298.1" stroke="#000" stroke-width="0.9"/>
<line x1="255.5" y1="296.3" x2="255.5" y2="298.1" stroke="#000" stroke-width="0.9"/>
<line x1="241.95" y1="256" x2="241.95" y2="251.7" stroke="#222" stroke-width="0.9"/>
<line x1="239.6" y1="251.7" x2="244.3" y2="251.7" stroke="#222" stroke-width="1.0"/>
<rect x="237" y="256" width="9.9" height="40.3" fill="#000"/>
<text x="247.3" y="307" font-size="7.5" text-anchor="middle">Day 17</text>
<path d="M241.7,249 L241.7,248.3 Q241.7,246.7 243.3,246.7 L258.3,246.7 Q259.9,246.7 259.9,248.3 L259.9,249" fill="none" stroke="#000" stroke-width="0.9"/>
<text x="251.7" y="247.5" font-size="8.2" text-anchor="middle" letter-spacing="0.85">***</text>
<line x1="50.7" y1="319.4" x2="50.7" y2="370.2" stroke="#000" stroke-width="1.1"/>
<line x1="50.2" y1="369.7" x2="84" y2="369.7" stroke="#000" stroke-width="1.1"/>
<line x1="50.7" y1="361.4" x2="84" y2="361.4" stroke="#333" stroke-width="0.9"/>
<line x1="48.5" y1="369.7" x2="50.7" y2="369.7" stroke="#000" stroke-width="0.9"/>
<text x="48.2" y="371.9" font-size="6.0" text-anchor="end">-5000</text>
<line x1="48.5" y1="361.4" x2="50.7" y2="361.4" stroke="#000" stroke-width="0.9"/>
<text x="48.2" y="363.6" font-size="6.0" text-anchor="end">0</text>
<line x1="48.5" y1="353.1" x2="50.7" y2="353.1" stroke="#000" stroke-width="0.9"/>
<text x="48.2" y="355.3" font-size="6.0" text-anchor="end">5000</text>
<line x1="48.5" y1="344.8" x2="50.7" y2="344.8" stroke="#000" stroke-width="0.9"/>
<text x="48.2" y="347" font-size="6.0" text-anchor="end">10000</text>
<line x1="48.5" y1="336.5" x2="50.7" y2="336.5" stroke="#000" stroke-width="0.9"/>
<text x="48.2" y="338.7" font-size="6.0" text-anchor="end">15000</text>
<line x1="48.5" y1="328.2" x2="50.7" y2="328.2" stroke="#000" stroke-width="0.9"/>
<text x="48.2" y="330.4" font-size="6.0" text-anchor="end">20000</text>
<line x1="48.5" y1="319.9" x2="50.7" y2="319.9" stroke="#000" stroke-width="0.9"/>
<text x="48.2" y="322.1" font-size="6.0" text-anchor="end">25000</text>
<line x1="60.4" y1="369.7" x2="60.4" y2="371.5" stroke="#000" stroke-width="0.9"/>
<line x1="74.6" y1="369.7" x2="74.6" y2="371.5" stroke="#000" stroke-width="0.9"/>
<line x1="60.25" y1="326.6" x2="60.25" y2="323.2" stroke="#222" stroke-width="0.9"/>
<line x1="58.25" y1="323.2" x2="62.25" y2="323.2" stroke="#222" stroke-width="1.0"/>
<rect x="55.4" y="326.6" width="9.7" height="34.8" fill="#000"/>
<rect x="72.15" y="361.1" width="4.9" height="0.6" fill="#999" stroke="#333" stroke-width="0.8"/>
<text x="67" y="380.6" font-size="7.5" text-anchor="middle">Day 24</text>
<path d="M60.4,320.6 L60.4,319.9 Q60.4,318.3 62,318.3 L76.7,318.3 Q78.3,318.3 78.3,319.9 L78.3,320.6" fill="none" stroke="#000" stroke-width="0.9"/>
<text x="69.8" y="319.1" font-size="8.2" text-anchor="middle" letter-spacing="0.85">***</text>
<line x1="113.3" y1="319.7" x2="113.3" y2="370.6" stroke="#000" stroke-width="1.1"/>
<line x1="112.8" y1="370.1" x2="146.5" y2="370.1" stroke="#000" stroke-width="1.1"/>
<line x1="113.3" y1="357.62" x2="146.5" y2="357.62" stroke="#333" stroke-width="0.9"/>
<line x1="111.1" y1="370.1" x2="113.3" y2="370.1" stroke="#000" stroke-width="0.9"/>
<text x="110.8" y="372.3" font-size="6.0" text-anchor="end">-10000</text>
<line x1="111.1" y1="357.62" x2="113.3" y2="357.62" stroke="#000" stroke-width="0.9"/>
<text x="110.8" y="359.82" font-size="6.0" text-anchor="end">0</text>
<line x1="111.1" y1="345.15" x2="113.3" y2="345.15" stroke="#000" stroke-width="0.9"/>
<text x="110.8" y="347.35" font-size="6.0" text-anchor="end">10000</text>
<line x1="111.1" y1="332.68" x2="113.3" y2="332.68" stroke="#000" stroke-width="0.9"/>
<text x="110.8" y="334.88" font-size="6.0" text-anchor="end">20000</text>
<line x1="111.1" y1="320.2" x2="113.3" y2="320.2" stroke="#000" stroke-width="0.9"/>
<text x="110.8" y="322.4" font-size="6.0" text-anchor="end">30000</text>
<line x1="122.4" y1="370.1" x2="122.4" y2="371.9" stroke="#000" stroke-width="0.9"/>
<line x1="136.6" y1="370.1" x2="136.6" y2="371.9" stroke="#000" stroke-width="0.9"/>
<line x1="122.8" y1="325.5" x2="122.8" y2="322.6" stroke="#222" stroke-width="0.9"/>
<line x1="120.8" y1="322.6" x2="124.8" y2="322.6" stroke="#222" stroke-width="1.0"/>
<rect x="118.3" y="325.5" width="9" height="32.12" fill="#000"/>
<rect x="133.45" y="356.7" width="7.1" height="1.23" fill="#999" stroke="#333" stroke-width="0.8"/>
<line x1="137" y1="357" x2="137" y2="355.2" stroke="#222" stroke-width="0.9"/>
<line x1="135.2" y1="355.2" x2="138.8" y2="355.2" stroke="#222" stroke-width="1.0"/>
<line x1="137" y1="357" x2="137" y2="358.6" stroke="#222" stroke-width="0.9"/>
<line x1="135.2" y1="358.6" x2="138.8" y2="358.6" stroke="#222" stroke-width="1.0"/>
<text x="123.8" y="380.6" font-size="7.5" text-anchor="middle">Day 31</text>
<path d="M122.6,321 L122.6,320.3 Q122.6,318.7 124.2,318.7 L139.1,318.7 Q140.7,318.7 140.7,320.3 L140.7,321" fill="none" stroke="#000" stroke-width="0.9"/>
<text x="132.3" y="319.5" font-size="8.2" text-anchor="middle" letter-spacing="0.85">****</text>
<line x1="172.4" y1="319.7" x2="172.4" y2="370.6" stroke="#000" stroke-width="1.1"/>
<line x1="171.9" y1="370.1" x2="206" y2="370.1" stroke="#000" stroke-width="1.1"/>
<line x1="172.4" y1="357.62" x2="206" y2="357.62" stroke="#333" stroke-width="0.9"/>
<line x1="170.2" y1="370.1" x2="172.4" y2="370.1" stroke="#000" stroke-width="0.9"/>
<text x="169.9" y="372.3" font-size="6.0" text-anchor="end">-10000</text>
<line x1="170.2" y1="357.62" x2="172.4" y2="357.62" stroke="#000" stroke-width="0.9"/>
<text x="169.9" y="359.82" font-size="6.0" text-anchor="end">0</text>
<line x1="170.2" y1="345.15" x2="172.4" y2="345.15" stroke="#000" stroke-width="0.9"/>
<text x="169.9" y="347.35" font-size="6.0" text-anchor="end">10000</text>
<line x1="170.2" y1="332.68" x2="172.4" y2="332.68" stroke="#000" stroke-width="0.9"/>
<text x="169.9" y="334.88" font-size="6.0" text-anchor="end">20000</text>
<line x1="170.2" y1="320.2" x2="172.4" y2="320.2" stroke="#000" stroke-width="0.9"/>
<text x="169.9" y="322.4" font-size="6.0" text-anchor="end">30000</text>
<line x1="182.5" y1="370.1" x2="182.5" y2="371.9" stroke="#000" stroke-width="0.9"/>
<line x1="196.5" y1="370.1" x2="196.5" y2="371.9" stroke="#000" stroke-width="0.9"/>
<line x1="182.65" y1="326.1" x2="182.65" y2="324.1" stroke="#222" stroke-width="0.9"/>
<line x1="180.65" y1="324.1" x2="184.65" y2="324.1" stroke="#222" stroke-width="1.0"/>
<rect x="178.2" y="326.1" width="8.9" height="31.52" fill="#000"/>
<rect x="192.45" y="356.6" width="7.8" height="1.33" fill="#999" stroke="#333" stroke-width="0.8"/>
<line x1="196.35" y1="356.9" x2="196.35" y2="352.2" stroke="#222" stroke-width="0.9"/>
<line x1="194.05" y1="352.2" x2="198.65" y2="352.2" stroke="#222" stroke-width="1.0"/>
<line x1="196.35" y1="356.9" x2="196.35" y2="358.9" stroke="#222" stroke-width="0.9"/>
<line x1="194.05" y1="358.9" x2="198.65" y2="358.9" stroke="#222" stroke-width="1.0"/>
<text x="185.8" y="380.6" font-size="7.5" text-anchor="middle">Day 38</text>
<path d="M182.9,320.8 L182.9,320.1 Q182.9,318.5 184.5,318.5 L199.4,318.5 Q201,318.5 201,320.1 L201,320.8" fill="none" stroke="#000" stroke-width="0.9"/>
<text x="192.4" y="319.3" font-size="8.2" text-anchor="middle" letter-spacing="0.85">****</text>
<line x1="234.2" y1="319.4" x2="234.2" y2="370.2" stroke="#000" stroke-width="1.1"/>
<line x1="233.7" y1="369.7" x2="267.8" y2="369.7" stroke="#000" stroke-width="1.1"/>
<line x1="234.2" y1="359.74" x2="267.8" y2="359.74" stroke="#333" stroke-width="0.9"/>
<line x1="232" y1="369.7" x2="234.2" y2="369.7" stroke="#000" stroke-width="0.9"/>
<text x="231.7" y="371.9" font-size="6.0" text-anchor="end">-50000</text>
<line x1="232" y1="359.74" x2="234.2" y2="359.74" stroke="#000" stroke-width="0.9"/>
<text x="231.7" y="361.94" font-size="6.0" text-anchor="end">0</text>
<line x1="232" y1="349.78" x2="234.2" y2="349.78" stroke="#000" stroke-width="0.9"/>
<text x="231.7" y="351.98" font-size="6.0" text-anchor="end">50000</text>
<line x1="232" y1="339.82" x2="234.2" y2="339.82" stroke="#000" stroke-width="0.9"/>
<text x="231.7" y="342.02" font-size="6.0" text-anchor="end">100000</text>
<line x1="232" y1="329.86" x2="234.2" y2="329.86" stroke="#000" stroke-width="0.9"/>
<text x="231.7" y="332.06" font-size="6.0" text-anchor="end">150000</text>
<line x1="232" y1="319.9" x2="234.2" y2="319.9" stroke="#000" stroke-width="0.9"/>
<text x="231.7" y="322.1" font-size="6.0" text-anchor="end">200000</text>
<line x1="244.1" y1="369.7" x2="244.1" y2="371.5" stroke="#000" stroke-width="0.9"/>
<line x1="258.4" y1="369.7" x2="258.4" y2="371.5" stroke="#000" stroke-width="0.9"/>
<line x1="243.95" y1="334.6" x2="243.95" y2="328.7" stroke="#222" stroke-width="0.9"/>
<line x1="241.8" y1="328.7" x2="246.1" y2="328.7" stroke="#222" stroke-width="1.0"/>
<rect x="239.2" y="334.6" width="9.5" height="25.14" fill="#000"/>
<rect x="254.55" y="358.7" width="7.4" height="1.34" fill="#999" stroke="#333" stroke-width="0.8"/>
<line x1="258.25" y1="359" x2="258.25" y2="355.3" stroke="#222" stroke-width="0.9"/>
<line x1="256.05" y1="355.3" x2="260.45" y2="355.3" stroke="#222" stroke-width="1.0"/>
<line x1="258.25" y1="359" x2="258.25" y2="362.1" stroke="#222" stroke-width="0.9"/>
<line x1="256.05" y1="362.1" x2="260.45" y2="362.1" stroke="#222" stroke-width="1.0"/>
<text x="245.9" y="380.6" font-size="7.5" text-anchor="middle">Day 45</text>
<path d="M244.1,320.6 L244.1,319.9 Q244.1,318.3 245.7,318.3 L260.6,318.3 Q262.2,318.3 262.2,319.9 L262.2,320.6" fill="none" stroke="#000" stroke-width="0.9"/>
<text x="253.3" y="319.1" font-size="8.2" text-anchor="middle" letter-spacing="0.85">***</text>
<rect x="209.3" y="225.4" width="4.6" height="4.6" fill="#000" stroke="#000" stroke-width="0.8"/>
<text x="217.6" y="229" font-size="5.3" textLength="31.4" lengthAdjust="spacingAndGlyphs">Mock (n=5)</text>
<rect x="209.3" y="231.8" width="4.6" height="4.6" fill="#fff" stroke="#000" stroke-width="0.8"/>
<text x="217.6" y="235.9" font-size="5.3" textLength="43.9" lengthAdjust="spacingAndGlyphs">CD7 CAR (n=5)</text>
<text x="270" y="278.9" font-size="10.0">E</text>
<text x="0" y="0" transform="translate(294.9 314.5) rotate(-90)" font-size="10.5" text-anchor="middle">Percent survival</text>
<line x1="318.9" y1="273.7" x2="318.9" y2="351.5" stroke="#222" stroke-width="1.3"/>
<line x1="318.3" y1="350.9" x2="473.6" y2="350.9" stroke="#222" stroke-width="1.3"/>
<line x1="315.3" y1="350.9" x2="318.9" y2="350.9" stroke="#222" stroke-width="1.0"/>
<text x="0" y="0" transform="translate(314.6 353.2) scale(1 0.85)" font-size="7.8" text-anchor="end">0</text>
<line x1="315.3" y1="336.94" x2="318.9" y2="336.94" stroke="#222" stroke-width="1.0"/>
<text x="0" y="0" transform="translate(314.6 339.24) scale(1 0.85)" font-size="7.8" text-anchor="end">20</text>
<line x1="315.3" y1="322.98" x2="318.9" y2="322.98" stroke="#222" stroke-width="1.0"/>
<text x="0" y="0" transform="translate(314.6 325.28) scale(1 0.85)" font-size="7.8" text-anchor="end">40</text>
<line x1="315.3" y1="309.02" x2="318.9" y2="309.02" stroke="#222" stroke-width="1.0"/>
<text x="0" y="0" transform="translate(314.6 311.32) scale(1 0.85)" font-size="7.8" text-anchor="end">60</text>
<line x1="315.3" y1="295.06" x2="318.9" y2="295.06" stroke="#222" stroke-width="1.0"/>
<text x="0" y="0" transform="translate(314.6 297.36) scale(1 0.85)" font-size="7.8" text-anchor="end">80</text>
<line x1="315.3" y1="281.1" x2="318.9" y2="281.1" stroke="#222" stroke-width="1.0"/>
<text x="0" y="0" transform="translate(314.6 283.4) scale(1 0.85)" font-size="7.8" text-anchor="end">100</text>
<line x1="318.9" y1="350.9" x2="318.9" y2="353.1" stroke="#222" stroke-width="1.0"/>
<text x="0" y="0" transform="translate(319.9 359.2) rotate(-45)" font-size="8.0" text-anchor="end">0</text>
<line x1="331.77" y1="350.9" x2="331.77" y2="353.1" stroke="#222" stroke-width="1.0"/>
<text x="0" y="0" transform="translate(332.77 359.2) rotate(-45)" font-size="8.0" text-anchor="end">25</text>
<line x1="344.64" y1="350.9" x2="344.64" y2="353.1" stroke="#222" stroke-width="1.0"/>
<text x="0" y="0" transform="translate(345.64 359.2) rotate(-45)" font-size="8.0" text-anchor="end">50</text>
<line x1="357.51" y1="350.9" x2="357.51" y2="353.1" stroke="#222" stroke-width="1.0"/>
<text x="0" y="0" transform="translate(358.51 359.2) rotate(-45)" font-size="8.0" text-anchor="end">75</text>
<line x1="370.38" y1="350.9" x2="370.38" y2="353.1" stroke="#222" stroke-width="1.0"/>
<text x="0" y="0" transform="translate(371.38 359.2) rotate(-45)" font-size="8.0" text-anchor="end">100</text>
<line x1="383.25" y1="350.9" x2="383.25" y2="353.1" stroke="#222" stroke-width="1.0"/>
<text x="0" y="0" transform="translate(384.25 359.2) rotate(-45)" font-size="8.0" text-anchor="end">125</text>
<line x1="396.12" y1="350.9" x2="396.12" y2="353.1" stroke="#222" stroke-width="1.0"/>
<text x="0" y="0" transform="translate(397.12 359.2) rotate(-45)" font-size="8.0" text-anchor="end">150</text>
<line x1="408.99" y1="350.9" x2="408.99" y2="353.1" stroke="#222" stroke-width="1.0"/>
<text x="0" y="0" transform="translate(409.99 359.2) rotate(-45)" font-size="8.0" text-anchor="end">175</text>
<line x1="421.86" y1="350.9" x2="421.86" y2="353.1" stroke="#222" stroke-width="1.0"/>
<text x="0" y="0" transform="translate(422.86 359.2) rotate(-45)" font-size="8.0" text-anchor="end">200</text>
<line x1="434.73" y1="350.9" x2="434.73" y2="353.1" stroke="#222" stroke-width="1.0"/>
<text x="0" y="0" transform="translate(435.73 359.2) rotate(-45)" font-size="8.0" text-anchor="end">225</text>
<line x1="447.6" y1="350.9" x2="447.6" y2="353.1" stroke="#222" stroke-width="1.0"/>
<text x="0" y="0" transform="translate(448.6 359.2) rotate(-45)" font-size="8.0" text-anchor="end">250</text>
<line x1="460.47" y1="350.9" x2="460.47" y2="353.1" stroke="#222" stroke-width="1.0"/>
<text x="0" y="0" transform="translate(461.47 359.2) rotate(-45)" font-size="8.0" text-anchor="end">275</text>
<line x1="473.34" y1="350.9" x2="473.34" y2="353.1" stroke="#222" stroke-width="1.0"/>
<text x="0" y="0" transform="translate(474.34 359.2) rotate(-45)" font-size="8.0" text-anchor="end">300</text>
<text x="382.4" y="381.8" font-size="10.3" text-anchor="middle">Days</text>
<polyline points="318.9,281.1 368.84,281.1 368.84,298.55 429.07,298.55 429.07,316 443.74,316" fill="none" stroke="#cf3048" stroke-width="1.3"/>
<line x1="443.74" y1="314.2" x2="443.74" y2="316.6" stroke="#cf3048" stroke-width="0.9"/>
<polyline points="318.9,281.1 356.48,281.1 356.48,350.9" fill="none" stroke="#111" stroke-width="1.0" stroke-dasharray="2,1,0.6,1"/>
<line x1="448.8" y1="302" x2="452.6" y2="302" stroke="#111" stroke-width="1.2"/>
<line x1="452.4" y1="302" x2="453.4" y2="300.4" stroke="#111" stroke-width="0.8"/>
<line x1="454.2" y1="302" x2="455.2" y2="302" stroke="#111" stroke-width="1.0"/>
<line x1="448.8" y1="313.8" x2="457.5" y2="313.8" stroke="#cf3048" stroke-width="1.3"/>
<line x1="453.1" y1="313.8" x2="453.1" y2="311.9" stroke="#cf3048" stroke-width="0.9"/>
<text x="462.4" y="303.7" font-size="6.6" textLength="37.5" lengthAdjust="spacingAndGlyphs">Mock (n=5)</text>
<text x="462.4" y="316.1" font-size="6.6" textLength="52.6" lengthAdjust="spacingAndGlyphs">CD7 CAR (n=4)</text>
<text x="464.7" y="335.4" font-size="6.4" textLength="35.4" lengthAdjust="spacingAndGlyphs"><tspan font-style="italic">P</tspan> = 0.0069</text>
</svg>
</body></html>
